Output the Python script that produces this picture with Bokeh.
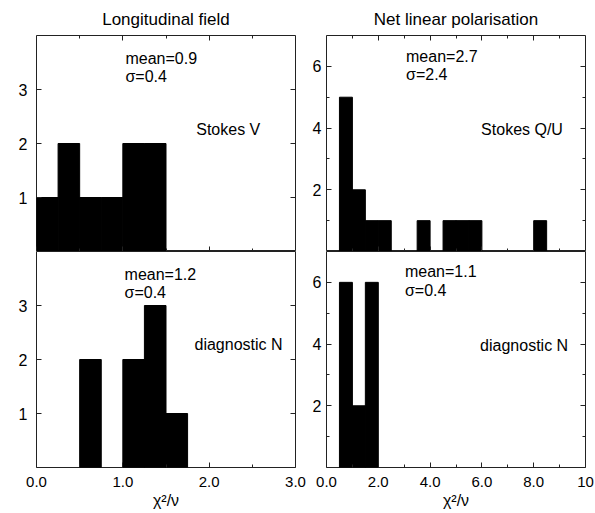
from bokeh.plotting import figure
from bokeh.layouts import column, row
from bokeh.models import (Range1d, FixedTicker, LinearAxis, PrintfTickFormatter,
                          Label, CustomLabelingPolicy)
from bokeh.embed import file_html
from bokeh.resources import INLINE

# ---------------- data ----------------
panel_titles = ["Longitudinal field", "Net linear polarisation"]
x_label = "χ²/ν"

# Longitudinal field, Stokes V (bin width 0.25)
v_left = [0.0, 0.25, 0.5, 0.75, 1.0, 1.25]
v_count = [1, 2, 1, 1, 2, 2]
v_width = 0.25
v_stats = ["mean=0.9", "σ=0.4"]
v_name = "Stokes V"

# Longitudinal field, diagnostic N
nl_left = [0.5, 1.0, 1.25, 1.5]
nl_count = [2, 2, 3, 1]
nl_width = 0.25
nl_stats = ["mean=1.2", "σ=0.4"]
nl_name = "diagnostic N"

# Net linear polarisation, Stokes Q/U (bin width 0.5)
q_left = [0.5, 1.0, 1.5, 2.0, 3.5, 4.5, 5.0, 5.5, 8.0]
q_count = [5, 2, 1, 1, 1, 1, 1, 1, 1]
q_width = 0.5
q_stats = ["mean=2.7", "σ=2.4"]
q_name = "Stokes Q/U"

# Net linear polarisation, diagnostic N
nq_left = [0.5, 1.0, 1.5]
nq_count = [6, 2, 6]
nq_width = 0.5
nq_stats = ["mean=1.1", "σ=0.4"]
nq_name = "diagnostic N"

# axis ticks
lx_major = [0, 1, 2, 3]
lx_minor = [0.5, 1.5, 2.5]
rx_major = [0, 2, 4, 6, 8, 10]
rx_minor = [1, 3, 5, 7, 9]
rx_overrides = {10: "10"}
ly_major = [1, 2, 3]
ry_major = [2, 4, 6]
ry_minor = [1, 3, 5]

FONT = "Liberation Sans"


def style_axis(ax, ticker, show_labels, label_size="16px", standoff=8):
    ax.ticker = ticker
    ax.major_tick_in = 5
    ax.major_tick_out = 0
    ax.minor_tick_in = 3
    ax.minor_tick_out = 0
    ax.axis_line_color = None
    ax.major_tick_line_color = "#222222"
    ax.minor_tick_line_color = "#222222"
    if show_labels:
        ax.major_label_text_font = FONT
        ax.major_label_text_font_size = label_size
        ax.major_label_text_color = "black"
        ax.major_label_standoff = standoff
    else:
        ax.major_label_text_font_size = "1px"
        ax.major_label_standoff = 0
        ax.major_label_policy = CustomLabelingPolicy(code="return []")


def make_panel(left, count, width, stats, name, xr, yr, xt, yt,
               top, left_col, title=None,
               stat_pos=None, name_pos=None, xover=None):
    kw = dict(output_backend="svg", toolbar_location=None,
              x_range=Range1d(*xr), y_range=Range1d(*yr),
              width=306 if left_col else 289,
              height=251 if top else 262,
              min_border_left=36 if left_col else 20,
              min_border_right=11 if left_col else 10,
              min_border_top=35 if top else 0,
              min_border_bottom=0 if top else 46,
              background_fill_color="white", border_fill_color="white")
    p = figure(**kw)
    p.grid.visible = False
    p.outline_line_color = "#222222"
    p.outline_line_width = 1

    right = [l + width for l in left]
    p.quad(left=left, right=right, top=count, bottom=0,
           fill_color="black", line_color="black")

    # bottom axis
    style_axis(p.xaxis[0], xt, not top, label_size="15px", standoff=9)
    if top:
        p.xaxis[0].fixed_location = yr[0]
    else:
        p.xaxis[0].formatter = PrintfTickFormatter(format="%.1f")
        if xover:
            p.xaxis[0].major_label_overrides = xover
        p.xaxis[0].axis_label = x_label
        p.xaxis[0].axis_label_text_font = FONT
        p.xaxis[0].axis_label_text_font_size = "16px"
        p.xaxis[0].axis_label_text_font_style = "normal"
        p.xaxis[0].axis_label_text_color = "black"
        p.xaxis[0].axis_label_standoff = 2
    # left axis
    style_axis(p.yaxis[0], yt, True, label_size="16px",
               standoff=9 if left_col else 5)
    # mirrored ticks on right and top edges
    ra = LinearAxis(fixed_location=xr[1])
    style_axis(ra, yt, False)
    p.add_layout(ra, "right")
    if top:
        ta = LinearAxis(fixed_location=yr[1])
        style_axis(ta, xt, False)
        p.add_layout(ta, "above")

    if title:
        p.title.text = title
        p.title.align = "center"
        p.title.text_font = FONT
        p.title.text_font_size = "17px"
        p.title.text_font_style = "normal"
        p.title.text_color = "black"
        p.title.standoff = 13

    sx, sy1, sy2 = stat_pos
    for txt, yy in zip(stats, [sy1, sy2]):
        p.add_layout(Label(x=sx, y=yy, text=txt, text_font=FONT,
                           text_font_size="16px", text_baseline="middle",
                           text_align="left", text_color="black"))
    nx, ny = name_pos
    p.add_layout(Label(x=nx, y=ny, text=name, text_font=FONT,
                       text_font_size="16px", text_baseline="middle",
                       text_align="left", text_color="black"))
    return p


lxt = FixedTicker(ticks=lx_major, minor_ticks=lx_minor)
rxt = FixedTicker(ticks=rx_major, minor_ticks=rx_minor)
lyt = FixedTicker(ticks=ly_major, minor_ticks=[])
ryt = FixedTicker(ticks=ry_major, minor_ticks=ry_minor)

p1 = make_panel(v_left, v_count, v_width, v_stats, v_name, (0, 3), (0, 4),
                lxt, lyt, top=True, left_col=True, title=panel_titles[0],
                stat_pos=(1.03, 3.57, 3.24), name_pos=(1.85, 2.26))
p2 = make_panel(q_left, q_count, q_width, q_stats, q_name, (0, 10), (0, 7),
                rxt, ryt, top=True, left_col=False, title=panel_titles[1],
                stat_pos=(3.07, 6.33, 5.74), name_pos=(5.97, 3.96))
p3 = make_panel(nl_left, nl_count, nl_width, nl_stats, nl_name, (0, 3), (0, 4),
                lxt, lyt, top=False, left_col=True,
                stat_pos=(1.02, 3.58, 3.24), name_pos=(1.83, 2.28))
p4 = make_panel(nq_left, nq_count, nq_width, nq_stats, nq_name, (0, 10), (0, 7),
                rxt, ryt, top=False, left_col=False,
                stat_pos=(3.03, 6.35, 5.73), name_pos=(5.93, 3.94), xover=rx_overrides)

layout = column(row(p1, p2), row(p3, p4))
open("out.html", "w").write(file_html(layout, INLINE))
